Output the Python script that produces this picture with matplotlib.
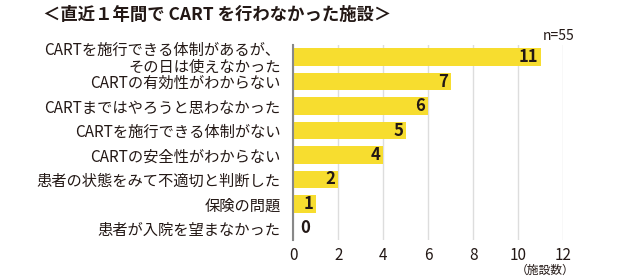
import matplotlib
matplotlib.use("Agg")
import matplotlib.pyplot as plt
import numpy as np

plt.rcParams['font.family'] = ['Noto Sans CJK JP', 'DejaVu Sans']

categories = [
    "CARTを施行できる体制があるが、\nその日は使えなかった",
    "CARTの有効性がわからない",
    "CARTまではやろうと思わなかった",
    "CARTを施行できる体制がない",
    "CARTの安全性がわからない",
    "患者の状態をみて不適切と判断した",
    "保険の問題",
    "患者が入院を望まなかった",
]
counts = [11, 7, 6, 5, 4, 2, 1, 0]
xticks = [0, 2, 4, 6, 8, 10, 12]

BAR_COLOR = "#F7DD2F"
TEXT_COLOR = "#231815"

fig = plt.figure(figsize=(6.4, 2.8), dpi=100)
ax = fig.add_axes([0.458, 0.143, 0.422, 0.696])

y = np.arange(len(categories))
ax.barh(y, counts, height=0.72, color=BAR_COLOR, zorder=2)

for yi, v in zip(y, counts):
    if v > 0:
        ax.text(v - 0.12, yi, str(v), ha="right", va="center",
                fontsize=12, fontweight="bold", color=TEXT_COLOR, zorder=3)
    else:
        ax.text(0.3, yi, str(v), ha="left", va="center",
                fontsize=12, fontweight="bold", color=TEXT_COLOR, zorder=3)

ax.set_xlim(0, 12)
ax.set_ylim(7.47, -0.49)
ax.set_xticks(xticks)
ax.set_xticklabels([str(t) for t in xticks], fontsize=11, color=TEXT_COLOR)
ax.set_yticks(y)
ax.set_yticklabels(categories, fontsize=11, color=TEXT_COLOR, linespacing=0.95)
ax.tick_params(axis="both", length=0, pad=5)
ax.tick_params(axis="y", pad=9)

ax.grid(axis="x", color="#DDDDDD", linewidth=1, zorder=0)
for s in ["top", "right", "bottom"]:
    ax.spines[s].set_visible(False)
ax.spines["left"].set_color("#888888")
ax.spines["left"].set_linewidth(1.5)
ax.spines["left"].set_zorder(4)

fig.text(0.339, 0.945, "＜直近１年間で CART を行わなかった施設＞", ha="center", va="center",
         fontsize=12.5, fontweight="bold", color=TEXT_COLOR)
fig.text(0.897, 0.872, "n=55", ha="right", va="center", fontsize=10, color=TEXT_COLOR)
fig.text(0.897, 0.035, "（施設数）", ha="right", va="center", fontsize=8.5, color=TEXT_COLOR)

fig.savefig("out.png", dpi=100, facecolor="white")
